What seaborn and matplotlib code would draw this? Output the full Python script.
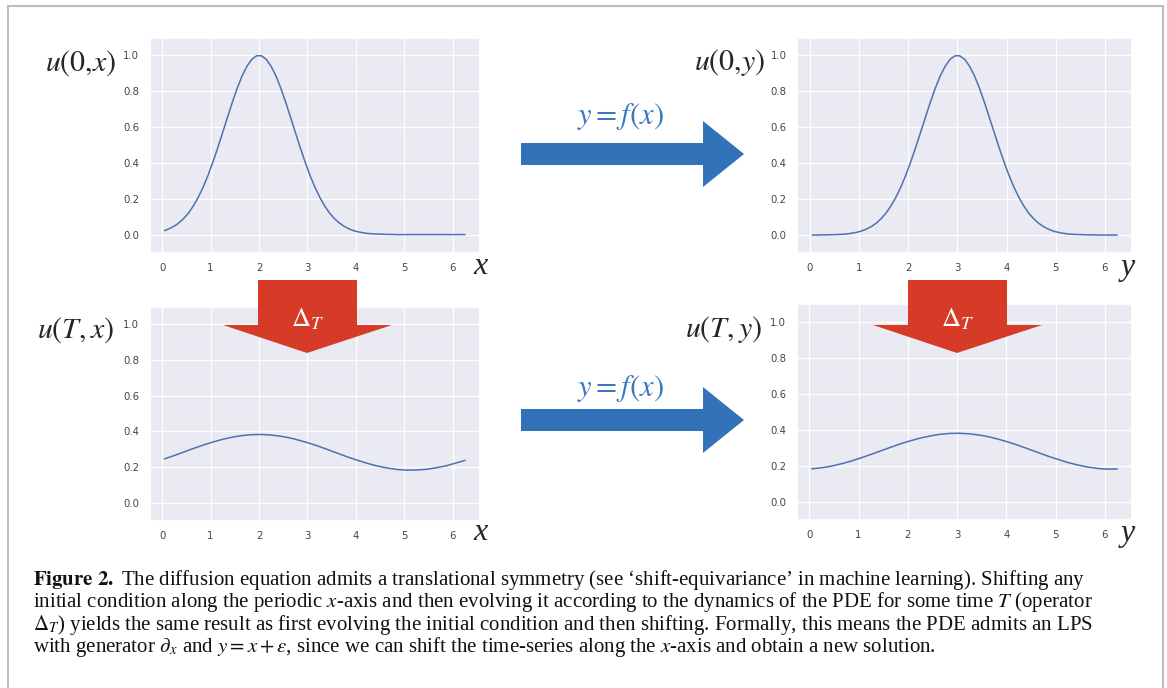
import matplotlib
matplotlib.use("Agg")
from matplotlib import pyplot as plt
from matplotlib.patches import Polygon, Rectangle
import seaborn as sns

# fine sample positions (used for the sharp initial bumps)
x_fine = [0.05, 0.15, 0.25, 0.35, 0.45, 0.55, 0.65, 0.75, 0.85, 0.95,
          1.05, 1.15, 1.25, 1.35, 1.45, 1.55, 1.65, 1.75, 1.85, 1.95,
          2.05, 2.15, 2.25, 2.35, 2.45, 2.55, 2.65, 2.75, 2.85, 2.95,
          3.05, 3.15, 3.25, 3.35, 3.45, 3.55, 3.65, 3.75, 3.85, 3.95,
          4.05, 4.15, 4.25, 4.35, 4.45, 4.55, 4.65, 4.75, 4.85, 4.95,
          5.05, 5.15, 5.25, 5.35, 5.45, 5.55, 5.65, 5.75, 5.85, 5.95,
          6.05, 6.15, 6.25]
# coarser positions (smooth diffused curves)
x_grid = [0.05, 0.25, 0.45, 0.65, 0.85, 1.05, 1.25, 1.45, 1.65, 1.85, 2.05,
          2.25, 2.45, 2.65, 2.85, 3.05, 3.25, 3.45, 3.65, 3.85, 4.05, 4.25,
          4.45, 4.65, 4.85, 5.05, 5.25, 5.45, 5.65, 5.85, 6.05, 6.25]

# u(0,x): initial bump around x=2
u0_x = [0.022, 0.033, 0.047, 0.066, 0.091, 0.122, 0.162, 0.210, 0.267, 0.332,
        0.406, 0.486, 0.570, 0.655, 0.739, 0.817, 0.885, 0.939, 0.978, 0.998,
        0.998, 0.978, 0.939, 0.885, 0.817, 0.739, 0.655, 0.570, 0.486, 0.406,
        0.332, 0.267, 0.210, 0.162, 0.122, 0.091, 0.066, 0.047, 0.033, 0.022,
        0.015, 0.010, 0.006, 0.004, 0.003, 0.002, 0.001, 0.001, 0.0, 0.0,
        0.0, 0.0, 0.0, 0.0, 0.0, 0.0, 0.0, 0.0, 0.0, 0.0,
        0.0, 0.0, 0.0]
# u(0,y): same bump shifted to y=3
u0_y = [0.0, 0.0, 0.001, 0.001, 0.002, 0.003, 0.004, 0.006, 0.010, 0.015,
        0.022, 0.033, 0.047, 0.066, 0.091, 0.122, 0.162, 0.210, 0.267, 0.332,
        0.406, 0.486, 0.570, 0.655, 0.739, 0.817, 0.885, 0.939, 0.978, 0.998,
        0.998, 0.978, 0.939, 0.885, 0.817, 0.739, 0.655, 0.570, 0.486, 0.406,
        0.332, 0.267, 0.210, 0.162, 0.122, 0.091, 0.066, 0.047, 0.033, 0.022,
        0.015, 0.010, 0.006, 0.004, 0.003, 0.002, 0.001, 0.001, 0.0, 0.0,
        0.0, 0.0, 0.0]
# u(T,x): after diffusion
uT_x = [0.246, 0.265, 0.285, 0.305, 0.324, 0.341, 0.356, 0.368, 0.377, 0.382,
        0.383, 0.380, 0.373, 0.363, 0.349, 0.333, 0.315, 0.295, 0.275, 0.255,
        0.237, 0.220, 0.206, 0.195, 0.187, 0.183, 0.184, 0.188, 0.196, 0.207,
        0.222, 0.238]
# u(T,y)
uT_y = [0.185, 0.191, 0.200, 0.213, 0.228, 0.246, 0.265, 0.285, 0.305, 0.324,
        0.341, 0.356, 0.368, 0.377, 0.382, 0.383, 0.380, 0.373, 0.363, 0.349,
        0.333, 0.315, 0.295, 0.275, 0.255, 0.237, 0.220, 0.206, 0.195, 0.187,
        0.183, 0.184]

x_ticks = [0, 1, 2, 3, 4, 5, 6]
y_ticks = [0.0, 0.2, 0.4, 0.6, 0.8, 1.0]

caption_lines = [
    r"$\mathbf{Figure\ 2.}$ The diffusion equation admits a translational symmetry (see ‘shift-equivariance’ in machine learning). Shifting any",
    r"initial condition along the periodic $x$-axis and then evolving it according to the dynamics of the PDE for some time $T$ (operator",
    r"$\Delta_T$) yields the same result as first evolving the initial condition and then shifting. Formally, this means the PDE admits an LPS",
    r"with generator $\partial_x$ and $y = x + \epsilon$, since we can shift the time-series along the $x$-axis and obtain a new solution.",
]

W, H = 1167, 688
BLUE = "#3272B8"
RED = "#D63B28"

sns.set_theme(style="darkgrid", rc={"grid.linewidth": 0.9})


def fx(px):
    return px / W


def fy(py):
    return 1 - py / H


def px_rect(left, top, right, bottom):
    return [fx(left), fy(bottom), (right - left) / W, (bottom - top) / H]


fig = plt.figure(figsize=(W / 100, H / 100), dpi=100)
fig.patch.set_facecolor("white")

panels = [
    (px_rect(149.5, 37.5, 479.5, 252.5), x_fine, u0_x),
    (px_rect(797, 37.5, 1132, 253), x_fine, u0_y),
    (px_rect(149.5, 306.5, 479.5, 520.7), x_grid, uT_x),
    (px_rect(796.5, 304.5, 1132, 520), x_grid, uT_y),
]

for rect, xs, vals in panels:
    ax = fig.add_axes(rect)
    sns.lineplot(x=xs, y=vals, ax=ax, color="#4C72B0", linewidth=1.1)
    ax.set_xlim(-0.26, 6.55)
    ax.set_ylim(-0.1, 1.1)
    ax.set_xticks(x_ticks)
    ax.set_yticks(y_ticks)
    ax.set_yticklabels([f"{v:.1f}" for v in y_ticks])
    ax.tick_params(labelsize=7.3, pad=7.5, colors="#444444", length=0)

serif = dict(math_fontfamily="stix")

# left labels of each panel
fig.text(fx(116), fy(63), r"$u(0{,}x)$", ha="right", va="center", fontsize=21.5, **serif)
fig.text(fx(765), fy(62), r"$u(0{,}y)$", ha="right", va="center", fontsize=21.5, **serif)
fig.text(fx(114), fy(330), r"$u(T,x)$", ha="right", va="center", fontsize=21.5, **serif)
fig.text(fx(762), fy(329), r"$u(T,y)$", ha="right", va="center", fontsize=21.5, **serif)

# axis letters
for (px, py, s) in [(481, 266, "x"), (481, 533, "x"), (1128, 268, "y"), (1128, 534, "y")]:
    fig.text(fx(px), fy(py), s, ha="center", va="center", fontsize=23,
             family="Liberation Serif", style="italic")

# blue shift arrows
for yc in (154, 420):
    pts = [(521, yc - 11), (703, yc - 11), (703, yc - 33), (744, yc),
           (703, yc + 33), (703, yc + 11), (521, yc + 11)]
    fig.patches.append(Polygon([(fx(a), fy(b)) for a, b in pts], closed=True,
                               transform=fig.transFigure, facecolor=BLUE,
                               edgecolor="none", zorder=5))
fig.text(fx(620), fy(117), r"$y = f(x)$", ha="center", va="center",
         fontsize=22, color="#3A78BF", **serif)
fig.text(fx(620), fy(388), r"$y = f(x)$", ha="center", va="center",
         fontsize=22, color="#3A78BF", **serif)

# red evolution arrows
for xc in (307, 957):
    pts = [(xc - 49, 280), (xc + 50, 280), (xc + 50, 325), (xc + 85, 325),
           (xc, 353), (xc - 84, 325), (xc - 49, 325)]
    fig.patches.append(Polygon([(fx(a), fy(b)) for a, b in pts], closed=True,
                               transform=fig.transFigure, facecolor=RED,
                               edgecolor="none", zorder=5))
    fig.text(fx(xc + 1), fy(319), r"$\Delta_T$", ha="center", va="center",
             fontsize=19, color="white", zorder=6, **serif)

# caption
for i, line in enumerate(caption_lines):
    fig.text(fx(33), fy(585 + 22.4 * i), line, ha="left", va="baseline",
             fontsize=15.0, family="Liberation Serif", color="#111111", **serif)

# frame
fig.patches.append(Rectangle((fx(8), fy(700)), fx(1163) - fx(8), fy(6) - fy(700),
                             transform=fig.transFigure, fill=False,
                             edgecolor="#BDBDBD", linewidth=1.5, zorder=0))

fig.savefig("out.png", dpi=100)
